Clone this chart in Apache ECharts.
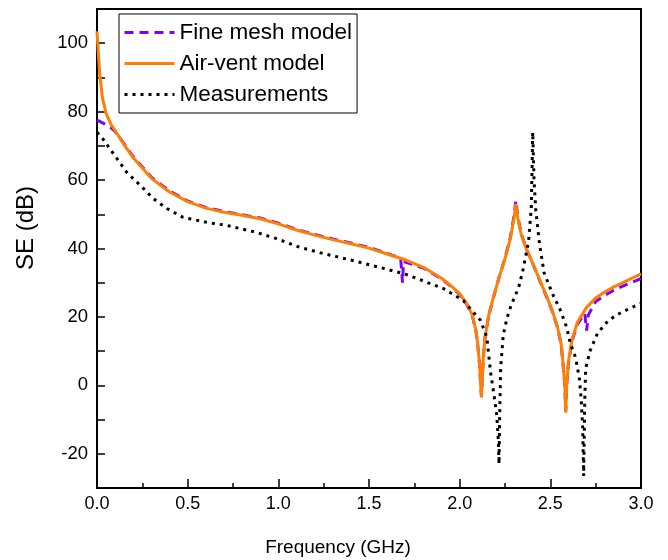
<!DOCTYPE html>
<html>
<head>
<meta charset="utf-8">
<script src="https://cdn.jsdelivr.net/npm/echarts@6/dist/echarts.min.js"></script>
<style>
  html, body { margin: 0; padding: 0; background: #fff; }
  #chart { width: 668px; height: 560px; }
</style>
</head>
<body>
<div id="chart"></div>
<script>
// Shielding effectiveness vs frequency: two simulation models and the measured curve.

// Air-vent model
const airVentFreq = [0, 0.005, 0.015, 0.03, 0.05, 0.08, 0.1, 0.15, 0.2, 0.3, 0.4, 0.5, 0.6, 0.7, 0.8, 0.9,
  1.0, 1.1, 1.2, 1.3, 1.4, 1.5, 1.6, 1.7, 1.8, 1.9, 1.95, 2.0, 2.04, 2.07, 2.09, 2.1, 2.11, 2.115,
  2.12, 2.125, 2.13, 2.14, 2.16, 2.19, 2.22, 2.25, 2.28, 2.3, 2.31, 2.32, 2.34, 2.37, 2.4, 2.44,
  2.48, 2.51, 2.54, 2.56, 2.57, 2.58, 2.585, 2.59, 2.6, 2.62, 2.65, 2.7, 2.75, 2.8, 2.85, 2.9, 2.95, 3.0];
const airVentSE = [103.5, 99, 91, 84, 79.5, 76, 74.5, 70.3, 66.5, 60.5, 56.5, 53.7, 51.8, 50.6, 49.7, 48.7,
  47.2, 45.4, 43.9, 42.6, 41.4, 40.1, 38.4, 36.7, 34.5, 31.3, 29.2, 26.8, 23.8, 20.5, 16, 12, 6, 1,
  -3.5, 2, 8, 14, 20.5, 26.5, 32, 37, 43, 49, 53, 49, 44, 39.5, 36, 31,
  26, 22, 17, 12, 6.5, 0, -8, 0, 7, 13.5, 18.5, 22.8, 25.5, 27.3, 28.8, 30, 31.3, 32.6];

// Fine mesh model
const fineMeshFreq = [0, 0.02, 0.05, 0.08, 0.1, 0.15, 0.2, 0.3, 0.4, 0.5, 0.6, 0.7, 0.8, 0.9,
  1.0, 1.1, 1.2, 1.3, 1.4, 1.5, 1.6, 1.66, 1.675, 1.685, 1.69, 1.7, 1.8, 1.9, 1.95, 2.0, 2.04, 2.07,
  2.09, 2.1, 2.11, 2.115, 2.12, 2.125, 2.13, 2.14, 2.16, 2.19, 2.22, 2.25, 2.28, 2.3, 2.31, 2.32,
  2.34, 2.37, 2.4, 2.44, 2.48, 2.51, 2.54, 2.56, 2.57, 2.58, 2.585, 2.59, 2.6, 2.62, 2.65, 2.69,
  2.7, 2.71, 2.75, 2.8, 2.85, 2.9, 2.95, 3.0];
const fineMeshSE = [77.5, 77, 76.2, 75.2, 74.2, 70.6, 66.8, 60.8, 56.8, 53.9, 52, 50.8, 49.9, 48.9,
  47.4, 45.6, 44.1, 42.8, 41.6, 40.3, 38.6, 37.4, 36.9, 30, 36.2, 36.6, 34.3, 31.1, 29, 26.6, 23.6, 20.3,
  15.8, 11.8, 5.8, 0.5, -3, 2, 8, 14, 20.3, 26.4, 32, 37.2, 43.4, 49.6, 54, 49.4,
  44.2, 39.6, 36, 30.8, 25.8, 21.8, 16.8, 11.8, 6.3, 0, -7.5, 0, 6.5, 13, 18, 21,
  16, 20.6, 24.5, 26.3, 27.8, 29, 30.1, 31.2];

// Measurements
const measFreq = [0, 0.033, 0.1, 0.165, 0.24, 0.31, 0.385, 0.475, 0.61, 0.72, 0.88, 0.99, 1.12, 1.25,
  1.41, 1.58, 1.7, 1.8, 1.91, 2.02, 2.115, 2.15, 2.17, 2.19, 2.205, 2.213, 2.217, 2.221, 2.226,
  2.24, 2.26, 2.28, 2.3, 2.325, 2.35, 2.38, 2.395, 2.403, 2.41, 2.42, 2.44, 2.465, 2.51, 2.555,
  2.59, 2.61, 2.64, 2.66, 2.67, 2.678, 2.684, 2.69, 2.695, 2.72, 2.76, 2.82, 2.89, 3.0];
const measSE = [74, 72, 67, 62.2, 58.4, 54.6, 51.7, 49.1, 47.6, 46.7, 44.7, 42.9, 40.3, 38.5,
  36.5, 34.2, 32.5, 30.5, 28.3, 24.8, 19, 14, 4, -3, -9, -16, -23, -8, 5,
  14.5, 19.5, 22.8, 25.5, 28.5, 34, 42, 52, 74, 60, 51, 41.5, 33, 27, 22,
  17, 12.3, 8, 2, -4, -12, -26.5, -4, 5, 10.2, 15.2, 19, 21.3, 24];

// Axis labelling
const xTickValues = [0, 0.5, 1.0, 1.5, 2.0, 2.5, 3.0];
const yTickValues = [-20, 0, 20, 40, 60, 80, 100];

const seriesNames = ['Fine mesh model', 'Air-vent model', 'Measurements'];

const pairs = (xs, ys) => xs.map((x, i) => [x, ys[i]]);

const FONT = '"Liberation Sans", Arial, sans-serif';

const chart = echarts.init(document.getElementById('chart'), null, { renderer: 'canvas' });

chart.setOption({
  animation: false,
  backgroundColor: '#ffffff',
  grid: {
    left: 97, right: 27, top: 9, bottom: 72,
    show: true, borderColor: '#000', borderWidth: 2, backgroundColor: 'transparent'
  },
  legend: {
    left: 119, top: 14,
    orient: 'vertical',
    data: seriesNames,
    itemWidth: 50, itemHeight: 14, itemGap: 8,
    padding: [7, 5, 7, 4],
    borderColor: '#000', borderWidth: 1, borderRadius: 0,
    backgroundColor: '#fff',
    itemStyle: { opacity: 0 },
    lineStyle: { width: 3 },
    textStyle: { fontFamily: FONT, fontSize: 22.5, color: '#000', lineHeight: 22 }
  },
  xAxis: {
    type: 'value', min: 0, max: 3, interval: 0.5,
    axisLine: { show: true, onZero: false, lineStyle: { color: '#000', width: 2 } },
    axisTick: { show: true, inside: true, length: 9, lineStyle: { color: '#000', width: 1.5 } },
    minorTick: { show: true, splitNumber: 2, length: 5, lineStyle: { color: '#000', width: 1.5 } },
    splitLine: { show: false },
    axisLabel: {
      margin: 7, color: '#000', fontFamily: FONT, fontSize: 18,
      formatter: v => xTickValues.some(t => Math.abs(t - v) < 1e-6) ? v.toFixed(1) : ''
    }
  },
  yAxis: {
    type: 'value', min: -30, max: 110, interval: 10,
    axisLine: { show: true, onZero: false, lineStyle: { color: '#000', width: 2 } },
    axisTick: { show: true, inside: true, length: 8, lineStyle: { color: '#000', width: 1.5 } },
    splitLine: { show: false },
    axisLabel: {
      margin: 9, color: '#000', fontFamily: FONT, fontSize: 18.5,
      formatter: v => yTickValues.indexOf(Math.round(v)) >= 0 ? String(Math.round(v)) : ''
    }
  },
  graphic: [
    {
      type: 'text', x: 338, y: 548,
      style: { text: 'Frequency (GHz)', font: '19px ' + FONT, fill: '#000', textAlign: 'center', textVerticalAlign: 'middle' }
    },
    {
      type: 'text', x: 26, y: 228, rotation: Math.PI / 2,
      style: { text: 'SE (dB)', font: '24px ' + FONT, fill: '#000', textAlign: 'center', textVerticalAlign: 'middle' }
    }
  ],
  series: [
    {
      name: seriesNames[0], type: 'line', showSymbol: false, symbol: 'none',
      data: pairs(fineMeshFreq, fineMeshSE),
      lineStyle: { color: '#7f00ff', width: 3, type: [9, 6] },
      itemStyle: { color: '#7f00ff' }, z: 2
    },
    {
      name: seriesNames[1], type: 'line', showSymbol: false, symbol: 'none',
      data: pairs(airVentFreq, airVentSE),
      lineStyle: { color: '#ff7f00', width: 3 },
      itemStyle: { color: '#ff7f00' }, z: 3
    },
    {
      name: seriesNames[2], type: 'line', showSymbol: false, symbol: 'none',
      data: pairs(measFreq, measSE),
      lineStyle: { color: '#000', width: 3, type: [3, 5] },
      itemStyle: { color: '#000' }, z: 4
    }
  ]
});
</script>
</body>
</html>
